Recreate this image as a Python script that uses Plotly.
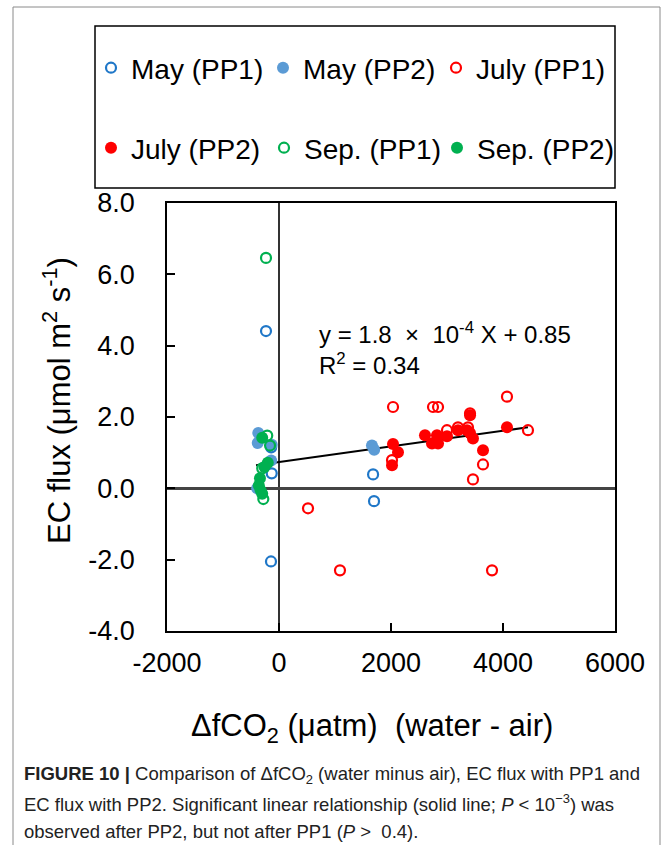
import plotly.graph_objects as go

# ---- data ----
may_pp1_x = [-232, -140, -130, -143, 1680, 1697]
may_pp1_y = [4.41, 1.15, 0.42, -2.05, 0.39, -0.36]

may_pp2_x = [-370, -380, -130, -140, -390, 1660, 1700]
may_pp2_y = [1.55, 1.27, 1.22, 0.78, 0.0, 1.20, 1.08]

july_pp1_x = [518, 1089, 2018, 2036, 2750, 2840, 3000, 3196, 3375, 3411, 3464, 3643, 3804, 4071, 4446]
july_pp1_y = [-0.56, -2.30, 0.79, 2.28, 2.28, 2.28, 1.63, 1.71, 1.71, 2.10, 0.25, 0.67, -2.30, 2.57, 1.63]

july_pp2_x = [2018, 2036, 2125, 2607, 2732, 2821, 2840, 3000, 3196, 3357, 3411, 3411, 3464, 3643, 4071]
july_pp2_y = [0.65, 1.24, 1.01, 1.49, 1.26, 1.49, 1.26, 1.46, 1.63, 1.63, 2.05, 1.55, 1.40, 1.07, 1.71]

sep_pp1_x = [-232, -210, -160, -300, -280]
sep_pp1_y = [6.46, 1.48, 1.20, 0.56, -0.30]

sep_pp2_x = [-300, -200, -260, -340, -360, -330, -300]
sep_pp2_y = [1.42, 0.72, 0.60, 0.28, 0.08, -0.05, -0.15]

fit_x = [-410, 4446]
fit_y = [0.65, 1.71]

x_ticks = [-2000, 0, 2000, 4000, 6000]
x_tick_labels = ["-2000", "0", "2000", "4000", "6000"]
y_ticks = [-4, -2, 0, 2, 4, 6, 8]
y_tick_labels = ["-4.0", "-2.0", "0.0", "2.0", "4.0", "6.0", "8.0"]

FONT = "Liberation Sans, Arial, sans-serif"
BLUE_O = "#1f77c8"
BLUE_F = "#5b9bd5"
RED = "#ff0000"
GREEN = "#00b050"

fig = go.Figure()

def add(x, y, name, color, filled, legend):
    if filled:
        marker = dict(symbol="circle", size=12, color=color, line=dict(width=0))
    else:
        marker = dict(symbol="circle-open", size=10, color=color, line=dict(width=2.2, color=color))
    fig.add_trace(go.Scatter(x=x, y=y, mode="markers", name=name, marker=marker,
                             legend=legend, showlegend=True))

fig.add_trace(go.Scatter(x=fit_x, y=fit_y, mode="lines", line=dict(color="black", width=2),
                         showlegend=False, hoverinfo="skip"))
add(may_pp1_x, may_pp1_y, "May (PP1)", BLUE_O, False, "legend")
add(may_pp2_x, may_pp2_y, "May (PP2)", BLUE_F, True, "legend2")
add(july_pp1_x, july_pp1_y, "July (PP1)", RED, False, "legend3")
add(july_pp2_x, july_pp2_y, "July (PP2)", RED, True, "legend4")
add(sep_pp1_x, sep_pp1_y, "Sep. (PP1)", GREEN, False, "legend5")
add(sep_pp2_x, sep_pp2_y, "Sep. (PP2)", GREEN, True, "legend6")

# paper mapping helpers (plot area 167..615 x, 203..631 y)
def px(v):
    return (v - 167) / 448.0

def py(v):
    return (631 - v) / 428.0

def leg(marker_x, row_y):
    return dict(orientation="h", font=dict(family=FONT, size=28, color="black"),
                bgcolor="rgba(0,0,0,0)", borderwidth=0, itemwidth=30,
                xanchor="left", yanchor="middle",
                x=px(marker_x - 20), y=py(row_y))

fig.update_layout(
    width=669, height=845,
    margin=dict(l=167, r=54, t=203, b=214, autoexpand=False),
    paper_bgcolor="white", plot_bgcolor="white",
    font=dict(family=FONT, color="black"),
    legend=leg(111, 68),
    legend2=leg(283, 68),
    legend3=leg(456, 68),
    legend4=leg(111, 148),
    legend5=leg(284, 148),
    legend6=leg(457, 148),
    xaxis=dict(range=[-2000, 6000], tickvals=x_ticks, ticktext=x_tick_labels,
               ticks="inside", ticklen=8, automargin=False,
               tickwidth=1.5, tickcolor="black", showgrid=False,
               showline=True, linecolor="black", linewidth=1.5, mirror=True,
               zeroline=True, zerolinecolor="#333333", zerolinewidth=2,
               tickfont=dict(family=FONT, size=27, color="black"),
               ticklabelstandoff=7),
    yaxis=dict(range=[-4, 8], tickvals=y_ticks, ticktext=y_tick_labels, ticks="inside",
               ticklen=8, tickwidth=1.5, tickcolor="black", showgrid=False, automargin=False,
               showline=True, linecolor="black", linewidth=1.5, mirror=True,
               zeroline=True, zerolinecolor="#444444", zerolinewidth=2.5,
               tickfont=dict(family=FONT, size=27, color="black"),
               ticklabelstandoff=25),
)

# axis titles as annotations (placed like the reference)
fig.add_annotation(x=px(372), y=py(728), xref="paper", yref="paper", xanchor="center",
                   yanchor="middle", showarrow=False,
                   text="ΔfCO<sub>2</sub> (μatm)\u00a0\u00a0(water - air)",
                   font=dict(family=FONT, size=31, color="black"))
fig.add_annotation(x=px(57), y=py(401), xref="paper", yref="paper", xanchor="center",
                   yanchor="middle", showarrow=False, textangle=-90,
                   text="EC flux (μmol m<sup>2</sup> s<sup>-1</sup>)",
                   font=dict(family=FONT, size=31, color="black"))

# outer frame and legend box
fig.add_shape(type="rect", xref="paper", yref="paper", x0=px(13), x1=px(660), y0=py(860), y1=py(7),
              line=dict(color="#8a8a8a", width=1), fillcolor="rgba(0,0,0,0)", layer="below")
fig.add_shape(type="rect", xref="paper", yref="paper", x0=px(95), x1=px(615), y0=py(188), y1=py(26),
              line=dict(color="black", width=1.5), fillcolor="rgba(0,0,0,0)")

# equation annotation
fig.add_annotation(x=679, y=4.35, xref="x", yref="y", xanchor="left", yanchor="middle",
                   text="y = 1.8\u00a0 ×\u00a0 10<sup>-4</sup> X + 0.85", showarrow=False,
                   font=dict(family=FONT, size=24, color="black"))
fig.add_annotation(x=679, y=3.48, xref="x", yref="y", xanchor="left", yanchor="middle",
                   text="R<sup>2</sup> = 0.34", showarrow=False,
                   font=dict(family=FONT, size=24, color="black"))

# caption
cap_lines = [
    "<b>FIGURE 10 |</b> Comparison of ΔfCO<sub>2</sub> (water minus air), EC flux with PP1 and",
    "EC flux with PP2. Significant linear relationship (solid line; <i>P</i> &lt; 10<sup>−3</sup>) was",
    "observed after PP2, but not after PP1 (<i>P</i> &gt;\u00a0 0.4).",
]
cap_y = [775, 803, 831]
for t, yy in zip(cap_lines, cap_y):
    fig.add_annotation(x=px(22), y=py(yy), xref="paper", yref="paper", xanchor="left",
                       yanchor="middle", text=t, showarrow=False, align="left",
                       font=dict(family=FONT, size=18.5, color="#222222"))

fig.write_html("out.html", config={"displayModeBar": False},
               post_script="document.body.style.margin='0';document.body.style.overflow='hidden';")
